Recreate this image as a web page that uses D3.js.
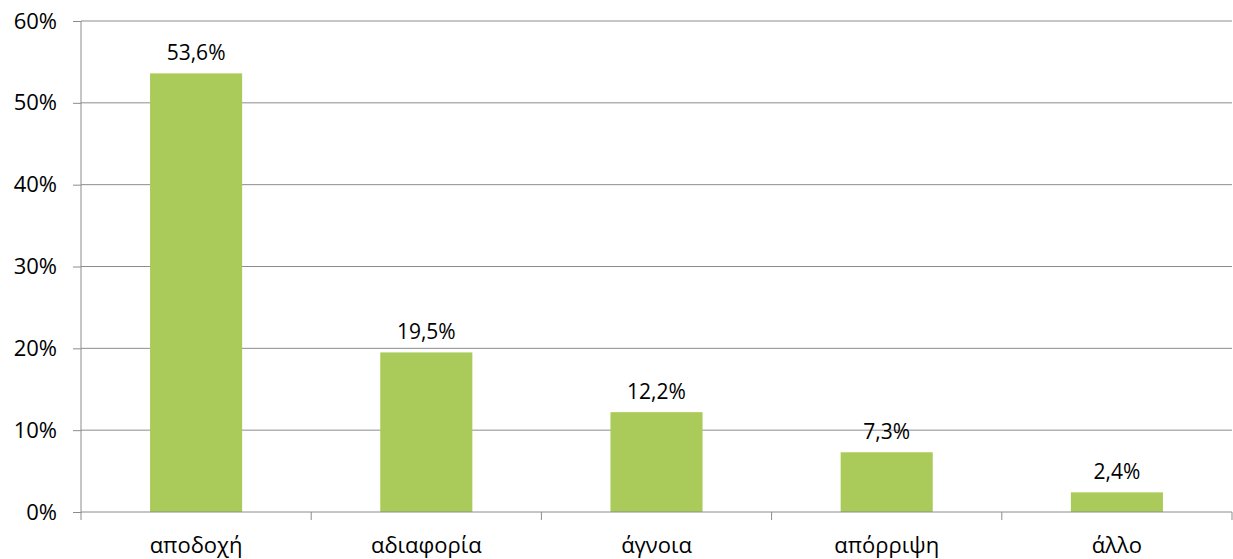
<!DOCTYPE html>
<html lang="el">
<head>
<meta charset="utf-8">
<title>Chart</title>
<script src="https://cdn.jsdelivr.net/npm/d3@7"></script>
<style>
  body { margin: 0; background: #fff; }
  svg text { font-family: "Open Sans", "Noto Sans", sans-serif; fill: #000; }
</style>
</head>
<body>
<script>
var categories = ["αποδοχή", "αδιαφορία", "άγνοια", "απόρριψη", "άλλο"];
var values = [53.6, 19.5, 12.2, 7.3, 2.4];
var valueLabels = ["53,6%", "19,5%", "12,2%", "7,3%", "2,4%"];
var yTicks = [0, 10, 20, 30, 40, 50, 60];

var w = 1233, h = 559;
var padLeft = 81, padRight = 1232, padTop = 21, padBottom = 512;

var svg = d3.select("body").append("svg")
    .attr("width", w)
    .attr("height", h);

var xScale = d3.scaleBand()
    .domain(categories)
    .range([padLeft, padRight])
    .paddingInner(0.6)
    .paddingOuter(0.3);

var yScale = d3.scaleLinear()
    .domain([0, 60])
    .range([padBottom, padTop]);

// gridlines
svg.append("g")
    .selectAll("line")
    .data(yTicks.slice(1))
    .enter()
    .append("line")
    .attr("x1", padLeft)
    .attr("x2", padRight)
    .attr("y1", function(d) { return yScale(d); })
    .attr("y2", function(d) { return yScale(d); })
    .attr("stroke", "#8c8c8c")
    .attr("stroke-width", 1);

// bars
svg.selectAll("rect")
    .data(values)
    .enter()
    .append("rect")
    .attr("x", function(d, i) { return xScale(categories[i]); })
    .attr("y", function(d) { return yScale(d); })
    .attr("width", xScale.bandwidth())
    .attr("height", function(d) { return padBottom - yScale(d); })
    .attr("fill", "#aacb5a");

// value labels
svg.selectAll("text.val")
    .data(values)
    .enter()
    .append("text")
    .attr("class", "val")
    .attr("x", function(d, i) { return xScale(categories[i]) + xScale.bandwidth() / 2; })
    .attr("y", function(d) { return yScale(d) - 13; })
    .attr("text-anchor", "middle")
    .attr("font-size", 21)
    .text(function(d, i) { return valueLabels[i]; });

// y axis
var yAxis = d3.axisLeft(yScale)
    .tickValues(yTicks)
    .tickSize(8)
    .tickPadding(16)
    .tickFormat(function(d) { return d + "%"; });

var gy = svg.append("g")
    .attr("transform", "translate(" + padLeft + ",0)")
    .call(yAxis);
gy.attr("font-size", null).attr("font-family", null);
gy.select(".domain").attr("stroke", "#8c8c8c").attr("d", "M0," + padTop + "V" + padBottom);
gy.selectAll(".tick line").attr("stroke", "#8c8c8c");
gy.selectAll(".tick text").style("font-size", "22px");

// x axis
var gx = svg.append("g")
    .attr("transform", "translate(0," + padBottom + ")");
gx.append("line")
    .attr("x1", padLeft)
    .attr("x2", padRight)
    .attr("stroke", "#8c8c8c");
var bounds = [padLeft].concat(categories.map(function(c) {
    return xScale(c) + xScale.bandwidth() / 2 + xScale.step() / 2;
}));
gx.selectAll("line.tk")
    .data(bounds)
    .enter()
    .append("line")
    .attr("class", "tk")
    .attr("x1", function(d) { return d; })
    .attr("x2", function(d) { return d; })
    .attr("y1", 0)
    .attr("y2", 8)
    .attr("stroke", "#8c8c8c");
gx.selectAll("text")
    .data(categories)
    .enter()
    .append("text")
    .attr("x", function(d) { return xScale(d) + xScale.bandwidth() / 2; })
    .attr("y", 41)
    .attr("text-anchor", "middle")
    .attr("font-size", 22)
    .text(function(d) { return d; });
</script>
</body>
</html>
